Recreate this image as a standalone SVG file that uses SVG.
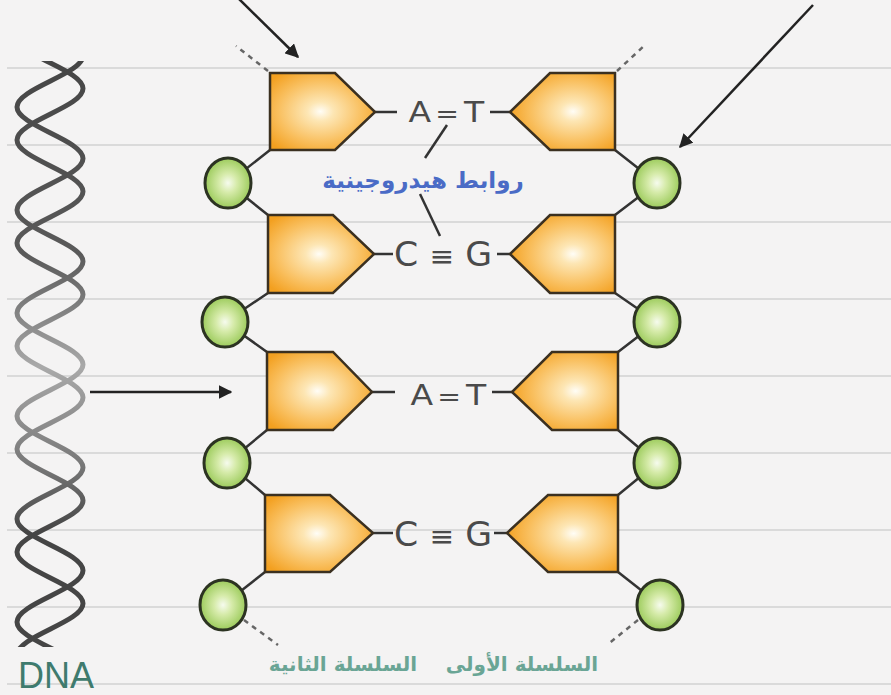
<svg xmlns="http://www.w3.org/2000/svg" width="891" height="695" viewBox="0 0 891 695">
  <defs>
    <style>
      .rule { stroke: #dadada; stroke-width: 2; }
      .sugarL { fill: url(#gL); stroke: #3b3020; stroke-width: 2.5; stroke-linejoin: miter; }
      .sugarR { fill: url(#gR); stroke: #3b3020; stroke-width: 2.5; stroke-linejoin: miter; }
      .phos { fill: url(#gP); stroke: #2c3322; stroke-width: 3; }
      .link { stroke: #333; stroke-width: 2.5; fill: none; }
      .dash { stroke: #666; stroke-width: 2.5; stroke-dasharray: 5 5; fill: none; }
      .arrow { stroke: #222; stroke-width: 2.5; fill: none; marker-end: url(#head); }
      .base { font-family: "DejaVu Sans", "Liberation Sans", sans-serif; font-size: 28px; fill: #4a4a4a; text-anchor: middle; }
      .hb { font-family: "DejaVu Sans", "Noto Sans", sans-serif; font-size: 23px; font-weight: bold; fill: #4a6bc6; text-anchor: middle; }
      .strand { font-family: "DejaVu Sans", "Noto Sans", sans-serif; font-size: 20px; font-weight: bold; fill: #6aa595; text-anchor: middle; }
      .dna { font-family: "Liberation Sans", "DejaVu Sans", sans-serif; font-size: 36px; fill: #3f7b6e; }
      .helix { fill: none; stroke: url(#gH); stroke-width: 5; stroke-linecap: round; }
    </style>
    <radialGradient id="gL" cx="0.48" cy="0.5" r="0.62">
      <stop offset="0" stop-color="#fffdf6"/>
      <stop offset="0.2" stop-color="#fde6b4"/>
      <stop offset="0.65" stop-color="#f9bf5e"/>
      <stop offset="1" stop-color="#f3a020"/>
    </radialGradient>
    <radialGradient id="gR" cx="0.6" cy="0.5" r="0.62">
      <stop offset="0" stop-color="#fffdf6"/>
      <stop offset="0.2" stop-color="#fde6b4"/>
      <stop offset="0.65" stop-color="#f9bf5e"/>
      <stop offset="1" stop-color="#f3a020"/>
    </radialGradient>
    <radialGradient id="gP" cx="0.5" cy="0.5" r="0.55">
      <stop offset="0" stop-color="#f6fbee"/>
      <stop offset="0.35" stop-color="#d6ebaa"/>
      <stop offset="1" stop-color="#93c64f"/>
    </radialGradient>
    <linearGradient id="gH" gradientUnits="userSpaceOnUse" x1="0" y1="60" x2="0" y2="650">
      <stop offset="0" stop-color="#454545"/>
      <stop offset="0.33" stop-color="#5a5a5a"/>
      <stop offset="0.52" stop-color="#a9a9a9"/>
      <stop offset="0.68" stop-color="#7a7a7a"/>
      <stop offset="0.8" stop-color="#454545"/>
      <stop offset="1" stop-color="#454545"/>
    </linearGradient>
    <clipPath id="helixClip">
      <rect x="0" y="61" width="120" height="586"/>
    </clipPath>
    <marker id="head" viewBox="0 0 10 10" refX="9" refY="5" markerWidth="5.5" markerHeight="5.5" orient="auto" markerUnits="strokeWidth">
      <path d="M0,0 L10,5 L0,10 z" fill="#222"/>
    </marker>
  </defs>

  <!-- paper background and ruled lines -->
  <rect width="891" height="695" fill="#f4f3f3"/>
  <g id="rules">
    <line class="rule" x1="7" y1="68" x2="891" y2="68"/>
    <line class="rule" x1="7" y1="145" x2="891" y2="145"/>
    <line class="rule" x1="7" y1="222" x2="891" y2="222"/>
    <line class="rule" x1="7" y1="299" x2="891" y2="299"/>
    <line class="rule" x1="7" y1="376" x2="891" y2="376"/>
    <line class="rule" x1="7" y1="453" x2="891" y2="453"/>
    <line class="rule" x1="7" y1="530" x2="891" y2="530"/>
    <line class="rule" x1="7" y1="607" x2="891" y2="607"/>
    <line class="rule" x1="7" y1="684" x2="891" y2="684"/>
  </g>

  <!-- double helix -->
  <g id="helix" clip-path="url(#helixClip)">
    <path class="helix" d="M17,4 C17,22.7 83,36.8 83,55.5 S17,88.3 17,107 S83,139.8 83,158.5 S17,191.3 17,210 S83,242.8 83,261.5 S17,294.3 17,313 S83,345.8 83,364.5 S17,397.3 17,416 S83,448.8 83,467.5 S17,500.3 17,519 S83,551.8 83,570.5 S17,603.3 17,622 S83,654.8 83,673.5"/>
    <path class="helix" d="M83,-14.5 C83,4.2 17,18.3 17,37 S83,69.8 83,88.5 S17,121.3 17,140 S83,172.8 83,191.5 S17,224.3 17,243 S83,275.8 83,294.5 S17,327.3 17,346 S83,378.8 83,397.5 S17,430.3 17,449 S83,481.8 83,500.5 S17,533.3 17,552 S83,584.8 83,603.5 S17,636.3 17,655"/>
  </g>
  <text id="dna-label" class="dna" x="18" y="688">DNA</text>

  <!-- backbone connectors, base-pair bonds and pointers -->
  <g id="connectors">
    <!-- left backbone -->
    <polyline class="link" points="270,150 228,183 268,215"/>
    <polyline class="link" points="268,293 225,322 267,352"/>
    <polyline class="link" points="267,430 227,463 265,495"/>
    <line class="link" x1="265" y1="572" x2="223" y2="605"/>
    <!-- right backbone -->
    <polyline class="link" points="615,150 657,183 615,215"/>
    <polyline class="link" points="615,293 657,322 618,352"/>
    <polyline class="link" points="618,430 657,463 618,495"/>
    <line class="link" x1="618" y1="572" x2="660" y2="605"/>
    <!-- strand continuations -->
    <line class="dash" x1="268" y1="71" x2="236" y2="46"/>
    <line class="dash" x1="617" y1="71" x2="645" y2="45"/>
    <line class="dash" x1="244" y1="620" x2="278" y2="645"/>
    <line class="dash" x1="638" y1="620" x2="607" y2="645"/>
    <!-- base to bond stubs -->
    <line class="link" x1="375" y1="112" x2="397" y2="112"/>
    <line class="link" x1="490" y1="112" x2="510" y2="112"/>
    <line class="link" x1="374" y1="254" x2="393" y2="254"/>
    <line class="link" x1="497" y1="254" x2="510" y2="254"/>
    <line class="link" x1="372" y1="392" x2="395" y2="392"/>
    <line class="link" x1="492" y1="392" x2="512" y2="392"/>
    <line class="link" x1="373" y1="533" x2="393" y2="533"/>
    <line class="link" x1="494" y1="533" x2="507" y2="533"/>
    <!-- hydrogen bond pointers -->
    <line class="link" x1="447" y1="125" x2="425" y2="158"/>
    <line class="link" x1="420" y1="194" x2="440" y2="236"/>
    <!-- arrows -->
    <line class="arrow" x1="237" y1="-3" x2="298" y2="57"/>
    <line class="arrow" x1="813" y1="5" x2="680" y2="147"/>
    <line class="arrow" x1="90" y1="392" x2="231" y2="392"/>
  </g>

  <!-- nucleotide row 1 -->
  <g id="sugar-1L"><polygon class="sugarL" points="270,73 335,73 375,112 335,150 270,150"/></g>
  <g id="sugar-1R"><polygon class="sugarR" points="615,73 550,73 510,112 550,150 615,150"/></g>
  <g id="phosphate-1L"><ellipse class="phos" cx="228" cy="183" rx="23" ry="25"/></g>
  <g id="phosphate-1R"><ellipse class="phos" cx="657" cy="183" rx="23" ry="25"/></g>

  <!-- nucleotide row 2 -->
  <g id="sugar-2L"><polygon class="sugarL" points="268,215 333,215 374,254 333,293 268,293"/></g>
  <g id="sugar-2R"><polygon class="sugarR" points="615,215 550,215 510,254 550,293 615,293"/></g>
  <g id="phosphate-2L"><ellipse class="phos" cx="225" cy="322" rx="23" ry="25"/></g>
  <g id="phosphate-2R"><ellipse class="phos" cx="657" cy="322" rx="23" ry="25"/></g>

  <!-- nucleotide row 3 -->
  <g id="sugar-3L"><polygon class="sugarL" points="267,352 333,352 372,392 333,430 267,430"/></g>
  <g id="sugar-3R"><polygon class="sugarR" points="618,352 552,352 512,392 552,430 618,430"/></g>
  <g id="phosphate-3L"><ellipse class="phos" cx="227" cy="463" rx="23" ry="25"/></g>
  <g id="phosphate-3R"><ellipse class="phos" cx="657" cy="463" rx="23" ry="25"/></g>

  <!-- nucleotide row 4 -->
  <g id="sugar-4L"><polygon class="sugarL" points="265,495 330,495 373,533 330,572 265,572"/></g>
  <g id="sugar-4R"><polygon class="sugarR" points="618,495 548,495 507,533 548,572 618,572"/></g>
  <g id="phosphate-4L"><ellipse class="phos" cx="223" cy="605" rx="23" ry="25"/></g>
  <g id="phosphate-4R"><ellipse class="phos" cx="660" cy="605" rx="23" ry="25"/></g>

  <!-- base pairs -->
  <g id="pair-1" transform="translate(447,0) scale(1.18,1) translate(-447,0)">
    <text class="base" y="122"><tspan x="424">A</tspan><tspan x="447" style="font-size:24px">=</tspan><tspan x="470">T</tspan></text>
  </g>
  <g id="pair-2" transform="translate(445,0) scale(1.05,1) translate(-445,0)">
    <text class="base" y="266" style="font-size:33px"><tspan x="408">C</tspan><tspan x="442" style="font-size:28px">≡</tspan><tspan x="477">G</tspan></text>
  </g>
  <g id="pair-3" transform="translate(449,0) scale(1.18,1) translate(-449,0)">
    <text class="base" y="405"><tspan x="426">A</tspan><tspan x="449" style="font-size:24px">=</tspan><tspan x="472">T</tspan></text>
  </g>
  <g id="pair-4" transform="translate(445,0) scale(1.05,1) translate(-445,0)">
    <text class="base" y="546" style="font-size:33px"><tspan x="408">C</tspan><tspan x="442" style="font-size:28px">≡</tspan><tspan x="477">G</tspan></text>
  </g>

  <!-- labels -->
  <g id="label-hbonds"><text class="hb" x="423" y="188">روابط هيدروجينية</text></g>
  <g id="label-strand-2"><text class="strand" x="343" y="671">السلسلة الثانية</text></g>
  <g id="label-strand-1"><text class="strand" x="522" y="671">السلسلة الأولى</text></g>
</svg>
